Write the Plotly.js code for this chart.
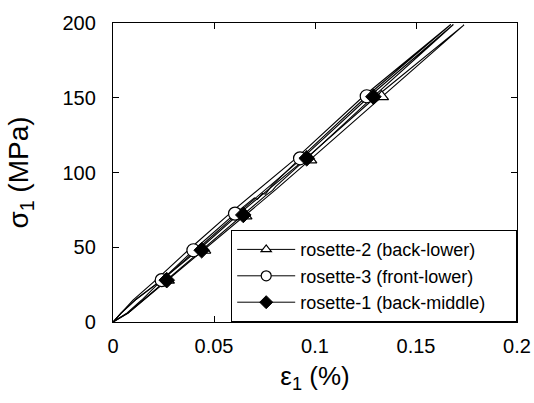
<!DOCTYPE html>
<html>
<head>
<meta charset="utf-8">
<script src="https://cdn.plot.ly/plotly-3.0.1.min.js"></script>
<style>html,body{margin:0;padding:0;background:#fff;}#chart{width:534px;height:403px;}</style>
</head>
<body>
<div id="chart"></div>
<script>
// rosette-2 (back-lower): loading then unloading curve
var r2CurveX = [0, 0.0075, 0.0152, 0.027, 0.045, 0.0654, 0.075, 0.081, 0.0975, 0.133, 0.1738,
                0.1305, 0.096, 0.063, 0.043, 0.025, 0.011, 0.004, 0];
var r2CurveY = [0, 6, 14.7, 28, 48, 71, 82, 89, 108.5, 150.7, 198.7,
                151, 110, 73, 49, 29, 14.7, 6, 0];
var r2MarkX = [0.027, 0.045, 0.0654, 0.0975, 0.133];
var r2MarkY = [28, 48, 71, 108.5, 150.7];

// rosette-3 (front-lower)
var r3CurveX = [0, 0.007, 0.0142, 0.0241, 0.0398, 0.0604, 0.070, 0.0715, 0.074, 0.0755, 0.0785, 0.0926, 0.1256, 0.1672,
                0.124, 0.091, 0.059, 0.038, 0.022, 0.0099, 0.004, 0];
var r3CurveY = [0, 6, 14.7, 28, 48, 72.5, 83, 82, 86, 85.5, 91, 109.5, 151, 199,
                151, 110, 74, 49, 29, 14.7, 6, 0];
var r3MarkX = [0.0241, 0.0398, 0.0604, 0.0926, 0.1256];
var r3MarkY = [28, 48, 72.5, 109.5, 151];

// rosette-1 (back-middle)
var r1CurveX = [0, 0.0075, 0.015, 0.0266, 0.0439, 0.0645, 0.074, 0.0755, 0.079, 0.0805, 0.0959, 0.1289, 0.1685,
                0.127, 0.094, 0.062, 0.042, 0.025, 0.011, 0.004, 0];
var r1CurveY = [0, 6, 14.7, 28, 48, 71.6, 83, 84.5, 88, 90.5, 109.5, 150.7, 199,
                151, 110, 73, 49, 29, 14.7, 6, 0];
var r1MarkX = [0.0266, 0.0439, 0.0645, 0.0959, 0.1289];
var r1MarkY = [28, 48, 71.6, 109.5, 150.7];

var names = ['rosette-2 (back-lower)', 'rosette-3 (front-lower)', 'rosette-1 (back-middle)'];
var pad = '\u00a0\u00a0\u00a0\u00a0\u00a0';

var lineStyle = {color: '#000', width: 1.1};
var traces = [
  {x: r2CurveX, y: r2CurveY, mode: 'lines', line: lineStyle, showlegend: false, hoverinfo: 'skip'},
  {x: r3CurveX, y: r3CurveY, mode: 'lines', line: lineStyle, showlegend: false, hoverinfo: 'skip'},
  {x: r1CurveX, y: r1CurveY, mode: 'lines', line: lineStyle, showlegend: false, hoverinfo: 'skip'},
  {x: r2MarkX, y: r2MarkY, mode: 'markers', showlegend: false,
   marker: {symbol: 'triangle-up', size: 12, color: '#fff', line: {color: '#000', width: 1.2}}},
  {x: r3MarkX, y: r3MarkY, mode: 'markers', showlegend: false,
   marker: {symbol: 'circle', size: 13, color: '#fff', line: {color: '#000', width: 1.2}}},
  {x: r1MarkX, y: r1MarkY, mode: 'markers', showlegend: false,
   marker: {symbol: 'diamond', size: 12, color: '#000', line: {color: '#000', width: 1}}},
  // legend entries
  {x: [null], y: [null], mode: 'lines+markers', name: names[0] + pad, legendgroup: 'a', line: {color: '#000', width: 1},
   marker: {symbol: 'triangle-up', size: 9, color: '#fff', line: {color: '#000', width: 1.2}}},
  {x: [null], y: [null], mode: 'lines+markers', name: names[1] + pad, legendgroup: 'b', line: {color: '#000', width: 1},
   marker: {symbol: 'circle', size: 10, color: '#fff', line: {color: '#000', width: 1.2}}},
  {x: [null], y: [null], mode: 'lines+markers', name: names[2] + pad, legendgroup: 'c', line: {color: '#000', width: 1},
   marker: {symbol: 'diamond', size: 10, color: '#000', line: {color: '#000', width: 1}}}
];

var fontFam = 'Liberation Sans, Arial, Helvetica, sans-serif';
var layout = {
  width: 534, height: 403,
  margin: {l: 113, r: 17, t: 23, b: 81},
  paper_bgcolor: '#fff', plot_bgcolor: '#fff',
  font: {family: fontFam, color: '#000', size: 20},
  showlegend: true,
  legend: {
    x: 1, xanchor: 'right', y: 0, yanchor: 'bottom',
    bgcolor: '#fff', bordercolor: '#000', borderwidth: 1.2,
    font: {family: fontFam, size: 18, color: '#000'},
    traceorder: 'grouped', tracegroupgap: 0, itemwidth: 58
  },
  xaxis: {
    range: [0, 0.2], dtick: 0.05, tick0: 0,
    ticks: 'inside', ticklen: 6, tickcolor: '#000', tickwidth: 1,
    showline: true, linecolor: '#000', linewidth: 1.2, mirror: 'ticks',
    showgrid: false, zeroline: false, ticklabelstandoff: 6,
    tickfont: {size: 20},
    title: {text: 'ε<sub>1</sub> (%)', font: {size: 26}, standoff: 10}
  },
  yaxis: {
    range: [0, 200], dtick: 50, tick0: 0,
    ticks: 'inside', ticklen: 6, tickcolor: '#000', tickwidth: 1,
    showline: true, linecolor: '#000', linewidth: 1.2, mirror: 'ticks',
    showgrid: false, zeroline: false, ticklabelstandoff: 12,
    tickfont: {size: 20},
    title: {text: 'σ<sub>1</sub> (MPa)', font: {size: 28}, standoff: 25}
  }
};

Plotly.newPlot('chart', traces, layout, {displayModeBar: false, staticPlot: true});
</script>
</body>
</html>
